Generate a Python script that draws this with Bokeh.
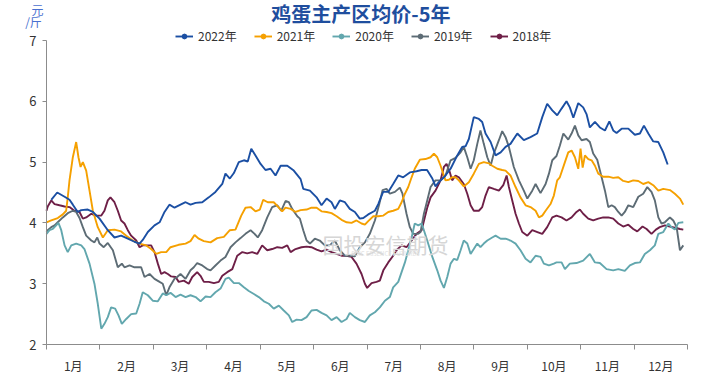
from bokeh.plotting import figure
from bokeh.models import (Range1d, FixedTicker, Label, Legend, LegendItem, ColumnDataSource)
from bokeh.embed import file_html
from bokeh.resources import INLINE

# ---- data (x = day of year, y = price 元/斤) ----
d2022 = [2.7,6.1,10.3,13.1,15.0,17.8,19.8,23.5,26.4,30.2,34.9,38.7,42.5,46.3,50.1,53.0,54.8,57.7,61.5,64.4,67.2,70.0,72.9,76.3,79.2,82.0,84.9,88.7,92.4,96.2,100.1,101.9,104.4,106.7,109.5,112.4,114.6,116.6,119.0,121.9,124.7,127.6,130.4,133.3,137.1,140.8,144.7,146.2,150.0,153.8,156.6,159.5,162.3,164.2,167.0,169.9,172.7,175.6,178.4,180.4,183.2,187.0,188.9,191.7,194.6,197.4,200.3,203.1,206.9,210.7,213.6,216.7,219.7,221.5,223.4,226.3,230.1,233.9,236.7,238.6,240.5,243.3,246.2,248.1,250.0,252.9,255.7,258.6,261.4,264.2,268.1,271.8,275.6,279.4,282.3,285.1,288.0,290.8,293.3,296.1,298.0,300.0,302.8,305.6,307.5,309.4,312.3,315.1,318.0,320.5,322.7,324.6,327.5,331.3,335.0,337.9,340.2,342.7,345.5,348.4,351.2,353.7]
v2022 = [4.38,4.50,4.43,4.38,4.30,4.18,4.21,4.22,4.18,4.07,3.88,3.76,3.79,3.74,3.69,3.66,3.72,3.85,3.96,4.01,4.18,4.30,4.25,4.30,4.34,4.30,4.33,4.34,4.42,4.51,4.64,4.81,4.73,4.82,5.00,5.03,5.01,5.22,5.11,4.97,4.87,4.89,4.78,4.94,4.94,4.86,4.72,4.56,4.53,4.42,4.29,4.40,4.34,4.23,4.37,4.34,4.23,4.18,4.07,4.08,4.14,4.20,4.31,4.51,4.51,4.64,4.78,4.75,4.83,4.85,4.87,4.87,4.73,4.60,4.67,4.75,4.89,5.11,5.25,5.26,5.38,5.74,5.71,5.66,5.47,5.33,5.11,5.16,5.25,5.30,5.47,5.36,5.41,5.47,5.74,5.96,5.85,5.77,5.88,6.00,5.90,5.73,5.97,5.90,5.79,5.57,5.66,5.57,5.52,5.67,5.52,5.48,5.55,5.55,5.45,5.47,5.60,5.47,5.34,5.33,5.16,4.96]

d2021 = [0.0,2.7,6.4,9.3,11.2,12.1,13.1,15.0,16.9,18.2,19.4,20.7,22.6,24.5,26.4,29.2,32.1,34.9,38.7,42.5,45.4,49.1,53.0,56.8,59.6,62.5,65.3,68.2,70.6,75.2,79.2,82.0,84.3,86.7,89.6,93.4,97.2,101.0,104.4,107.6,110.9,113.3,116.2,119.0,121.5,123.4,126.0,129.4,132.3,134.2,136.1,139.0,141.8,144.7,148.1,150.9,153.8,156.6,159.5,162.3,165.2,168.0,170.9,173.7,176.5,179.4,181.3,183.2,186.1,188.9,191.8,194.6,197.4,200.3,202.2,204.1,206.0,207.9,209.7,212.6,215.8,218.7,220.6,222.5,224.4,227.2,229.1,231.0,232.9,234.8,237.6,240.5,243.3,246.2,249.0,251.9,253.8,256.7,259.5,261.4,264.2,267.1,269.9,272.8,275.6,278.5,280.4,282.3,284.2,287.0,288.9,290.8,292.3,295.2,297.1,299.0,300.9,302.8,304.1,305.3,306.6,308.5,310.4,312.3,314.2,317.0,319.9,322.7,325.6,328.4,331.3,334.1,337.0,339.8,342.7,345.5,348.4,351.2,355.0,357.8,360.7,362.6]
v2021 = [4.01,4.04,4.08,4.14,4.20,4.42,4.70,5.08,5.33,5.08,4.92,5.00,4.86,4.53,4.20,3.93,3.76,3.88,3.89,3.86,3.79,3.71,3.66,3.63,3.57,3.49,3.52,3.52,3.60,3.64,3.66,3.70,3.80,3.74,3.70,3.68,3.75,3.77,3.88,3.89,4.12,4.25,4.26,4.19,4.22,4.38,4.34,4.34,4.25,4.19,4.25,4.23,4.18,4.21,4.22,4.25,4.25,4.19,4.18,4.16,4.11,4.05,4.01,4.00,4.04,3.99,3.97,4.03,4.11,4.11,4.12,4.18,4.20,4.23,4.34,4.48,4.59,4.75,4.89,5.04,5.05,5.08,5.14,5.08,4.94,4.70,4.71,4.75,4.75,4.70,4.60,4.67,4.81,4.97,5.00,4.98,4.94,4.89,4.87,4.86,4.78,4.59,4.42,4.29,4.26,4.20,4.09,4.12,4.20,4.31,4.45,4.70,4.75,5.00,5.16,5.19,5.08,4.89,5.22,4.91,5.11,5.05,5.03,4.94,4.81,4.76,4.76,4.74,4.75,4.69,4.67,4.70,4.69,4.64,4.67,4.62,4.53,4.56,4.54,4.48,4.40,4.30]

d2020 = [0.0,1.7,3.6,5.5,6.8,8.4,10.3,12.1,14.1,16.9,19.8,21.6,24.5,27.3,29.2,31.2,33.0,34.9,36.8,39.1,41.0,42.9,45.4,48.2,51.1,53.0,54.8,57.7,60.5,63.4,66.2,68.2,70.6,73.5,76.3,79.2,82.0,84.9,87.7,90.6,93.4,96.2,99.1,101.9,103.8,106.7,109.5,112.4,115.2,118.1,120.9,123.8,126.6,129.4,132.3,135.1,138.0,139.9,142.4,145.2,148.1,150.9,153.8,156.6,159.5,162.3,165.2,168.0,170.9,172.7,175.6,178.4,181.3,184.1,187.0,189.8,192.7,195.5,197.4,200.3,202.2,204.1,206.0,207.9,209.7,211.7,213.6,214.9,216.8,219.7,222.5,224.4,226.3,228.2,230.1,232.0,233.9,235.8,237.6,239.6,241.5,243.3,245.3,247.1,249.0,251.0,253.8,255.7,258.6,261.4,264.2,267.1,269.9,272.8,275.6,278.5,281.3,283.2,286.1,288.9,290.4,293.3,295.2,298.0,301.8,305.6,309.4,312.3,315.1,318.9,322.7,325.6,329.3,332.2,335.0,337.9,340.7,343.6,346.4,348.4,351.2,354.1,355.9,357.8,359.8,362.6]
v2020 = [3.82,3.88,3.90,3.96,4.00,3.88,3.63,3.52,3.63,3.66,3.63,3.57,3.33,3.00,2.67,2.26,2.34,2.45,2.61,2.59,2.48,2.34,2.42,2.50,2.51,2.67,2.86,2.81,2.72,2.71,2.84,2.81,2.85,2.78,2.82,2.78,2.81,2.78,2.71,2.79,2.78,2.86,2.92,3.08,3.10,3.01,3.01,2.94,2.88,2.83,2.78,2.71,2.67,2.59,2.64,2.56,2.48,2.37,2.41,2.40,2.45,2.56,2.57,2.52,2.48,2.40,2.45,2.37,2.42,2.52,2.45,2.40,2.37,2.48,2.53,2.61,2.72,2.78,2.94,3.03,3.19,3.35,3.55,3.76,3.99,3.96,3.99,3.88,3.71,3.44,3.22,3.05,2.93,3.11,3.33,3.41,3.39,3.55,3.71,3.66,3.49,3.57,3.66,3.60,3.66,3.71,3.76,3.79,3.74,3.74,3.71,3.66,3.55,3.41,3.35,3.46,3.44,3.33,3.30,3.33,3.35,3.35,3.24,3.33,3.34,3.38,3.49,3.35,3.34,3.24,3.22,3.24,3.21,3.30,3.34,3.35,3.49,3.55,3.63,3.82,3.85,3.99,3.93,3.89,4.00,4.01]

d2019 = [0.0,0.7,2.7,4.6,6.4,9.3,12.1,15.0,16.9,18.8,20.7,22.6,25.5,27.3,28.9,30.2,32.6,34.9,37.8,40.6,42.9,44.4,47.3,50.1,53.9,55.8,58.7,61.5,64.4,66.2,68.2,70.0,72.9,74.4,76.3,79.2,82.0,83.9,85.8,88.7,91.5,93.4,96.2,99.1,101.9,104.8,107.6,110.5,113.3,116.2,118.5,120.3,122.8,125.7,128.5,131.4,133.7,136.1,138.0,139.9,142.8,144.3,146.2,148.1,150.0,152.8,155.6,158.5,161.3,164.2,167.0,169.9,172.7,175.6,178.4,181.3,184.1,187.0,189.5,191.4,193.6,195.5,198.4,201.2,202.7,205.0,206.9,208.8,211.7,213.0,214.9,216.8,218.7,221.5,224.4,227.2,230.1,232.9,235.8,237.6,239.6,241.5,243.3,245.3,247.1,249.0,251.0,252.9,254.7,257.6,259.5,261.4,263.3,266.1,269.0,271.8,273.8,276.6,278.5,281.3,284.2,286.1,288.0,290.4,292.3,294.3,297.1,299.0,300.9,302.8,304.7,307.5,309.4,311.3,313.6,316.1,318.0,319.9,321.8,323.6,325.6,327.5,329.3,331.3,334.1,337.0,339.8,342.1,344.5,346.4,348.4,350.2,352.1,355.0,356.9,358.8,360.7,362.6]
v2019 = [3.85,3.88,3.93,3.96,4.01,4.09,4.16,4.20,4.18,4.08,3.93,3.79,3.71,3.68,3.76,3.66,3.60,3.67,3.55,3.27,3.33,3.27,3.30,3.27,3.27,3.11,3.16,3.08,3.03,3.00,2.81,2.94,3.08,3.11,3.16,3.08,3.22,3.27,3.34,3.30,3.24,3.22,3.30,3.38,3.44,3.60,3.68,3.75,3.82,3.88,3.82,3.76,3.88,4.09,4.26,4.29,4.20,4.36,4.34,4.23,4.11,4.07,3.88,3.71,3.66,3.74,3.71,3.63,3.63,3.71,3.55,3.46,3.46,3.45,3.60,3.68,3.82,4.04,4.31,4.54,4.56,4.48,4.51,4.58,4.48,4.15,3.93,3.82,3.82,3.85,4.15,4.37,4.59,4.70,4.70,4.78,5.03,5.07,5.16,5.25,5.08,4.89,5.03,5.30,5.52,5.30,5.08,4.94,5.14,5.36,5.51,5.41,5.25,4.92,4.70,4.53,4.40,4.53,4.64,4.49,4.64,4.81,5.03,5.10,5.27,5.47,5.37,5.47,5.60,5.44,5.36,5.38,5.33,5.14,5.04,4.75,4.53,4.26,4.29,4.26,4.18,4.12,4.18,4.29,4.26,4.43,4.48,4.59,4.51,4.37,4.09,3.99,4.01,4.09,4.04,3.93,3.55,3.63]

d2018 = [0.0,0.7,2.7,4.6,7.4,10.3,13.1,15.9,18.8,20.7,22.6,25.5,28.3,31.2,33.0,34.9,36.4,38.7,40.6,42.5,44.4,46.3,48.2,51.1,53.0,54.8,56.8,59.6,61.5,63.4,65.3,67.2,69.1,71.0,73.5,75.3,78.2,81.0,83.0,85.8,87.7,89.6,92.4,95.3,98.1,100.1,102.9,105.8,108.6,111.5,114.3,117.1,120.0,122.8,125.7,128.5,131.4,134.2,137.1,139.0,141.8,145.2,148.1,150.9,153.8,156.6,159.5,162.3,165.2,168.0,170.9,173.7,176.5,179.4,181.3,182.6,185.1,187.9,189.8,191.8,194.6,197.4,199.3,202.2,205.0,207.9,210.7,213.6,215.4,216.9,218.7,221.5,224.4,226.3,227.8,229.7,231.0,232.9,234.8,237.6,239.6,241.5,243.3,246.2,248.1,250.0,251.9,254.7,257.6,260.1,262.0,263.3,265.2,267.1,269.0,270.9,273.8,276.6,279.5,282.3,285.1,288.0,290.4,293.3,296.1,299.0,301.8,303.7,305.6,308.5,311.3,314.2,317.0,319.9,322.7,325.6,328.4,331.3,334.1,336.4,339.4,341.7,344.5,347.0,349.2,352.1,355.0,357.8,360.7,362.6]
v2018 = [4.20,4.27,4.37,4.31,4.29,4.27,4.26,4.20,4.18,4.07,4.09,4.15,4.12,4.12,4.20,4.37,4.42,4.34,4.20,4.04,3.99,3.88,3.79,3.71,3.60,3.63,3.63,3.63,3.52,3.33,3.16,3.19,3.16,3.12,3.11,3.03,3.05,3.00,3.11,3.19,3.13,3.03,3.03,3.01,3.03,3.13,3.19,3.24,3.46,3.52,3.50,3.52,3.49,3.63,3.55,3.57,3.60,3.59,3.63,3.52,3.57,3.60,3.61,3.60,3.56,3.53,3.56,3.52,3.49,3.46,3.46,3.44,3.33,3.16,3.00,2.93,3.01,3.03,3.05,3.22,3.35,3.46,3.55,3.63,3.60,3.71,3.82,3.88,4.09,4.26,4.42,4.53,4.70,4.92,4.97,4.83,4.70,4.78,4.75,4.64,4.48,4.29,4.20,4.20,4.26,4.45,4.59,4.56,4.53,4.62,4.78,4.59,4.37,4.15,3.99,3.85,3.79,3.88,3.85,3.82,3.93,4.09,4.12,4.09,4.04,4.09,4.18,4.22,4.15,4.07,4.04,4.07,4.09,4.09,4.07,3.99,3.94,3.97,3.90,3.86,3.94,3.90,3.82,3.89,3.93,3.96,3.94,3.92,3.90,3.89]

series_names = ["2022年", "2021年", "2020年", "2019年", "2018年"]
series_days = [d2022, d2021, d2020, d2019, d2018]
series_vals = [v2022, v2021, v2020, v2019, v2018]
series_colors = ["#1B4FA3", "#F5A000", "#62A7AE", "#5D6C75", "#6E1F47"]

month_labels = ["1月", "2月", "3月", "4月", "5月", "6月", "7月", "8月", "9月", "10月", "11月", "12月"]
y_ticks = [2, 3, 4, 5, 6, 7]
x_start, x_end = 0, 365
y_low, y_high = 2, 7

FONT = "Noto Sans CJK SC"
mlen = (x_end - x_start) / 12
bounds = [x_start + i * mlen for i in range(13)]
mids = [x_start + (i + 0.5) * mlen for i in range(12)]

# canvas = frame; axes are pinned inside it with fixed_location
W, H = 695, 380
px_day = 641 / 365.0
px_unit = 304 / 5.0
xr = Range1d(x_start - 46 / px_day, x_start + (W - 46) / px_day)
yr = Range1d(y_low - (H - 344) / px_unit, y_high + 40 / px_unit)

p = figure(frame_width=W, frame_height=H, output_backend="svg", toolbar_location=None,
           x_range=xr, y_range=yr, min_border=0, title=None)
p.outline_line_color = None
p.xgrid.visible = False
p.ygrid.visible = False
p.background_fill_color = "white"

axis_col = "#8c8c8c"
xa = p.xaxis[0]
xa.fixed_location = y_low
xa.bounds = (x_start, x_end)
xa.ticker = FixedTicker(ticks=mids, minor_ticks=bounds)
xa.major_label_overrides = {m: lab for m, lab in zip(mids, month_labels)}
xa.major_tick_line_color = None
xa.minor_tick_out = 5
xa.minor_tick_in = 0
xa.minor_tick_line_color = axis_col
xa.axis_line_color = axis_col
xa.major_label_text_font = FONT
xa.major_label_text_font_size = "12px"
xa.major_label_text_color = "#333333"
xa.major_label_standoff = 6

ya = p.yaxis[0]
ya.fixed_location = x_start
ya.bounds = (y_low, y_high)
ya.ticker = FixedTicker(ticks=y_ticks)
ya.major_tick_out = 4
ya.major_tick_in = 0
ya.minor_tick_line_color = None
ya.major_tick_line_color = axis_col
ya.axis_line_color = axis_col
ya.major_label_text_font = FONT
ya.major_label_text_font_size = "13px"
ya.major_label_text_color = "#333333"
ya.major_label_standoff = 6

# watermark
p.add_layout(Label(x=193, y=3.66, text="国投安信期货", text_font=FONT, text_font_size="21px",
                   text_color="#d6d6d6", text_align="center", text_baseline="middle"))
p.add_layout(Label(x=193, y=3.49, text="SDIC ESSENCE FUTURES", text_font=FONT, text_font_size="6px",
                   text_color="#e0e0e0", text_align="center", text_baseline="middle"))

items = []
for name, dd, vv, col in reversed(list(zip(series_names, series_days, series_vals, series_colors))):
    src = ColumnDataSource(dict(x=dd, y=vv))
    r = p.line("x", "y", source=src, line_color=col, line_width=1.9)
    # marker used only for the legend glyph (point lies outside the visible range)
    m = p.scatter(x=[-1000], y=[-1000], marker="circle", size=7, fill_color=col, line_color=col)
    items.insert(0, LegendItem(label=name, renderers=[r, m]))

legend = Legend(items=items, orientation="horizontal", location=(175, H - 44),
                glyph_width=18, glyph_height=12, label_standoff=5, spacing=17,
                padding=0, margin=0, border_line_color=None, background_fill_alpha=0,
                label_text_font=FONT, label_text_font_size="12px", label_text_color="#333333")
p.add_layout(legend, "center")

# title and unit
p.add_layout(Label(x=179, y=7.44, text="鸡蛋主产区均价-5年", text_font=FONT, text_font_size="20px",
                   text_font_style="bold", text_color="#1F4E9E", text_align="center", text_baseline="middle"))
p.add_layout(Label(x=-5.1, y=7.51, text="元", text_font=FONT, text_font_size="12px",
                   text_color="#4A70D0", text_align="center", text_baseline="middle"))
p.add_layout(Label(x=-7.4, y=7.32, text="/斤", text_font=FONT, text_font_size="12px",
                   text_color="#4A70D0", text_align="center", text_baseline="middle"))

open("out.html", "w").write(file_html(p, INLINE))
